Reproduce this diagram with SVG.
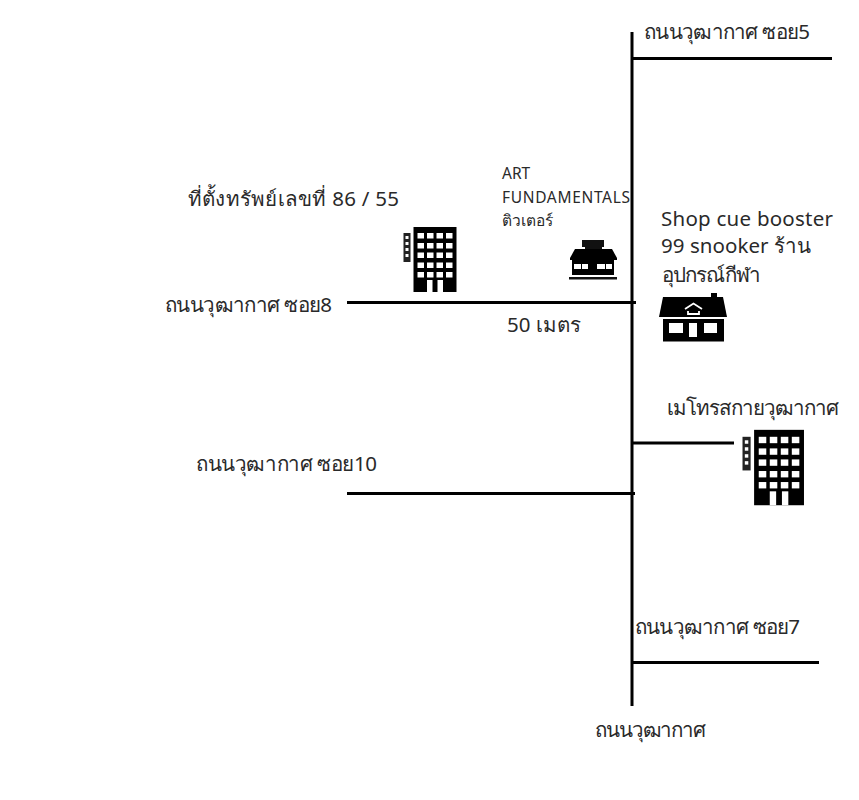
<svg xmlns="http://www.w3.org/2000/svg" width="859" height="800" viewBox="0 0 859 800">
<style>
text{font-family:"Noto Sans","DejaVu Sans",sans-serif;fill:#2a2a2a}
.t{font-size:20.500px}.s{font-size:15.500px}.l{font-size:20.500px}
.r{stroke:#000;stroke-width:3;fill:none}
.w{fill:#fff}
</style>
<defs>
<g id="tower">
<rect x="10" y="-1" width="43" height="65" fill="#000"/>
<g class="w">
<rect x="14" y="5" width="6.500" height="5.500"/><rect x="23.500" y="5" width="6.500" height="5.500"/><rect x="33" y="5" width="6.500" height="5.500"/><rect x="42.500" y="5" width="6.500" height="5.500"/>
<rect x="14" y="15" width="6.500" height="5.500"/><rect x="23.500" y="15" width="6.500" height="5.500"/><rect x="33" y="15" width="6.500" height="5.500"/><rect x="42.500" y="15" width="6.500" height="5.500"/>
<rect x="14" y="24.500" width="6.500" height="5.500"/><rect x="23.500" y="24.500" width="6.500" height="5.500"/><rect x="33" y="24.500" width="6.500" height="5.500"/><rect x="42.500" y="24.500" width="6.500" height="5.500"/>
<rect x="14" y="34.500" width="6.500" height="5.500"/><rect x="23.500" y="34.500" width="6.500" height="5.500"/><rect x="33" y="34.500" width="6.500" height="5.500"/><rect x="42.500" y="34.500" width="6.500" height="5.500"/>
<rect x="14" y="44" width="6.500" height="5.500"/><rect x="23.500" y="44" width="6.500" height="5.500"/><rect x="33" y="44" width="6.500" height="5.500"/><rect x="42.500" y="44" width="6.500" height="5.500"/>
<rect x="23.500" y="52" width="5.500" height="12"/><rect x="34" y="52" width="5.500" height="12"/>
</g>
<rect x="0" y="5" width="7" height="29" fill="#222"/>
<g class="w"><rect x="2" y="8" width="3" height="3"/><rect x="2" y="14" width="3" height="3"/><rect x="2" y="20" width="3" height="3"/><rect x="2" y="26" width="3" height="3"/></g>
</g>
</defs>
<g id="connectors">
<path class="r" d="M632 32V706"/>
<path class="r" d="M632 58.500H832"/>
<path class="r" d="M347 302.500H636"/>
<path class="r" d="M633 443H734"/>
<path class="r" d="M347 493.500H635"/>
<path class="r" d="M632 662.500H819"/>
</g>
<g id="soi5"><text class="t" x="644" y="39" textLength="166">ถนนวุฒากาศ ซอย5</text></g>
<g id="plot"><text class="t" x="188" y="206" textLength="211">ที่ตั้งทรัพย์เลขที่ 86 / 55</text></g>
<g id="art"><text class="s" x="502" y="179">ART</text><text class="s" x="502" y="203" textLength="128">FUNDAMENTALS</text><text class="s" x="502" y="226" textLength="51">ติวเตอร์</text></g>
<g id="shop"><text class="l" x="661" y="226" textLength="172">Shop cue booster</text><text class="l" x="661" y="253" textLength="150">99 snooker ร้าน</text><text class="l" x="661" y="282" textLength="99">อุปกรณ์กีฬา</text></g>
<g id="soi8"><text class="t" x="165" y="312" textLength="167">ถนนวุฒากาศ ซอย8</text></g>
<g id="dist"><text class="t" x="507" y="332" textLength="74">50 เมตร</text></g>
<g id="metro"><text class="t" x="667" y="415" textLength="172">เมโทรสกายวุฒากาศ</text></g>
<g id="soi10"><text class="t" x="196" y="471" textLength="181">ถนนวุฒากาศ ซอย10</text></g>
<g id="soi7"><text class="t" x="635" y="634" textLength="165">ถนนวุฒากาศ ซอย7</text></g>
<g id="main"><text class="t" x="595" y="737" textLength="111">ถนนวุฒากาศ</text></g>
<g id="tower1"><use href="#tower" x="403.500" y="228"/></g>
<g id="tower2"><use href="#tower" transform="translate(742.500 431) scale(1.160)"/></g>
<g id="cafe">
<rect x="582" y="240" width="22" height="7" fill="#111"/><rect x="585" y="247" width="17" height="3" fill="#111"/>
<path d="M575 249H612L617 258V260H570V258Z" fill="#000"/>
<rect x="572" y="259" width="42" height="16" fill="#000"/>
<rect x="574" y="264" width="14" height="5" fill="#fff"/><rect x="597" y="264" width="15" height="5" fill="#fff"/><rect x="581" y="264" width="1" height="5" fill="#000"/><rect x="605" y="264" width="1" height="5" fill="#000"/>
<rect x="569" y="277" width="48" height="2.500" fill="#111"/>
</g>
<g id="house">
<rect x="711" y="293" width="6" height="8" fill="#000"/>
<path d="M663 297H723L727 317H659Z" fill="#000"/>
<rect x="663" y="319" width="61" height="22.500" fill="#000"/>
<rect x="669" y="323" width="14" height="10" fill="#fff"/><rect x="689" y="323" width="8" height="14" fill="#fff"/><rect x="704" y="323" width="13" height="10" fill="#fff"/>
<path d="M685 309L693.500 303.500L702 309M688 311V314H699V311" fill="none" stroke="#fff" stroke-width="1.800"/>
</g>
</svg>
